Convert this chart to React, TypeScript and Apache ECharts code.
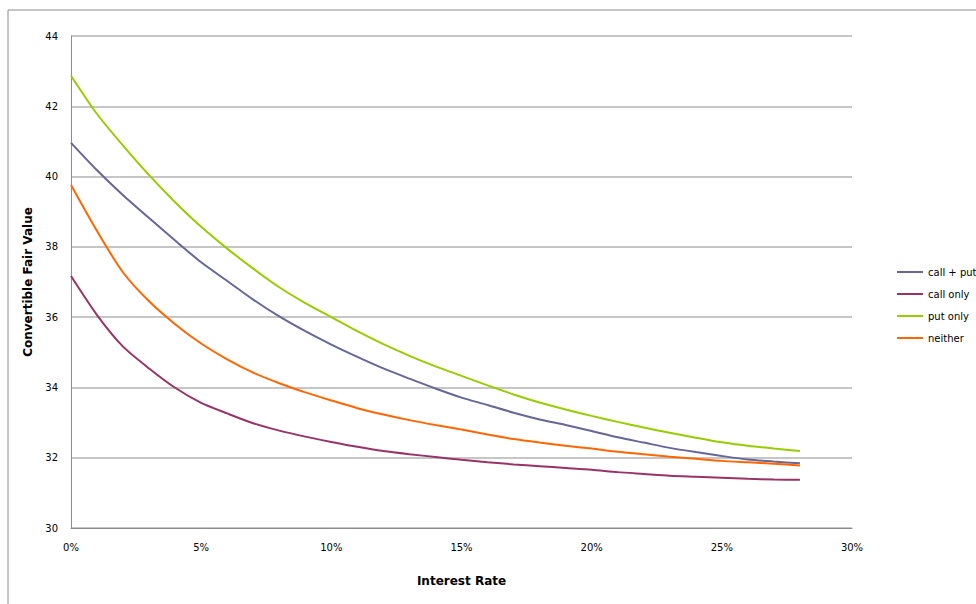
import React, { useEffect, useRef } from "react";
import * as echarts from "echarts";

const rates = [0, 0.01, 0.02, 0.03, 0.04, 0.05, 0.06, 0.07, 0.08, 0.09, 0.1, 0.11, 0.12, 0.13, 0.14, 0.15, 0.16, 0.17, 0.18, 0.19, 0.2, 0.21, 0.22, 0.23, 0.24, 0.25, 0.26, 0.27, 0.28];

const callPut = [40.96, 40.18, 39.47, 38.82, 38.18, 37.56, 37.03, 36.5, 36.02, 35.6, 35.22, 34.87, 34.54, 34.25, 33.97, 33.71, 33.5, 33.28, 33.09, 32.93, 32.76, 32.58, 32.43, 32.28, 32.16, 32.05, 31.95, 31.89, 31.84];
const callOnly = [37.17, 36.06, 35.16, 34.54, 33.99, 33.56, 33.26, 32.98, 32.77, 32.6, 32.45, 32.31, 32.19, 32.1, 32.02, 31.94, 31.87, 31.81, 31.76, 31.71, 31.66, 31.59, 31.54, 31.49, 31.46, 31.43, 31.4, 31.38, 31.37];
const putOnly = [42.87, 41.78, 40.88, 40.04, 39.27, 38.57, 37.95, 37.38, 36.85, 36.4, 36.0, 35.6, 35.23, 34.9, 34.6, 34.33, 34.06, 33.8, 33.57, 33.37, 33.19, 33.02, 32.86, 32.71, 32.57, 32.44, 32.34, 32.26, 32.19];
const neither = [39.76, 38.45, 37.27, 36.45, 35.8, 35.25, 34.8, 34.42, 34.12, 33.86, 33.63, 33.41, 33.23, 33.07, 32.93, 32.8, 32.66, 32.53, 32.43, 32.34, 32.26, 32.17, 32.1, 32.03, 31.97, 31.91, 31.87, 31.83, 31.78];

const seriesNames = ["call + put", "call only", "put only", "neither"];
const seriesColors = ["#666699", "#993366", "#99CC00", "#FF6600"];
const seriesValues = [callPut, callOnly, putOnly, neither];

export default function App() {
  const ref = useRef<HTMLDivElement>(null);
  useEffect(() => {
    if (!ref.current) return;
    const chart = echarts.init(ref.current, undefined, { renderer: "svg" });
    const font = "DejaVu Sans";
    chart.setOption({
      animation: false,
      backgroundColor: "#ffffff",
      textStyle: { fontFamily: font },
      graphic: [
        {
          type: "rect",
          shape: { x: 8, y: 10, width: 1200, height: 1200 },
          style: { fill: "none", stroke: "#8c8c8c", lineWidth: 1 },
          silent: true,
        },
      ],
      grid: { left: 71, top: 36, right: 124, bottom: 76, containLabel: false },
      legend: {
        orient: "vertical",
        left: 892,
        top: 262,
        itemWidth: 26,
        itemHeight: 2,
        itemGap: 12,
        icon: "rect",
        textStyle: { fontFamily: font, fontSize: 10, color: "#000" },
        data: seriesNames,
      },
      xAxis: {
        type: "value",
        min: 0,
        max: 0.3,
        interval: 0.05,
        name: "Interest Rate",
        nameLocation: "middle",
        nameGap: 47,
        nameTextStyle: { fontFamily: font, fontSize: 12, fontWeight: "bold", color: "#000" },
        axisLine: { show: true, lineStyle: { color: "#8c8c8c", width: 1 } },
        axisTick: { show: false },
        splitLine: { show: false },
        axisLabel: {
          margin: 14,
          fontFamily: font,
          fontSize: 10,
          color: "#000",
          formatter: (v: number) => `${Math.round(v * 100)}%`,
        },
      },
      yAxis: {
        type: "value",
        min: 30,
        max: 44,
        interval: 2,
        name: "Convertible Fair Value",
        nameLocation: "middle",
        nameGap: 33,
        nameTextStyle: { fontFamily: font, fontSize: 12, fontWeight: "bold", color: "#000" },
        axisLine: { show: true, lineStyle: { color: "#8c8c8c", width: 1 } },
        axisTick: { show: false },
        splitLine: { show: true, lineStyle: { color: "#b3b3b3", width: 1.5 } },
        axisLabel: { margin: 13, fontFamily: font, fontSize: 10, color: "#000" },
      },
      series: seriesNames.map((name, i) => ({
        name,
        type: "line",
        symbol: "none",
        smooth: 0.25,
        color: seriesColors[i],
        lineStyle: { color: seriesColors[i], width: 2 },
        data: rates.map((r, j) => [r, seriesValues[i][j]]),
      })),
    });
    return () => chart.dispose();
  }, []);
  return (
    <div
      ref={ref}
      style={{ position: "fixed", left: 0, top: 0, width: 976, height: 604 }}
    />
  );
}
